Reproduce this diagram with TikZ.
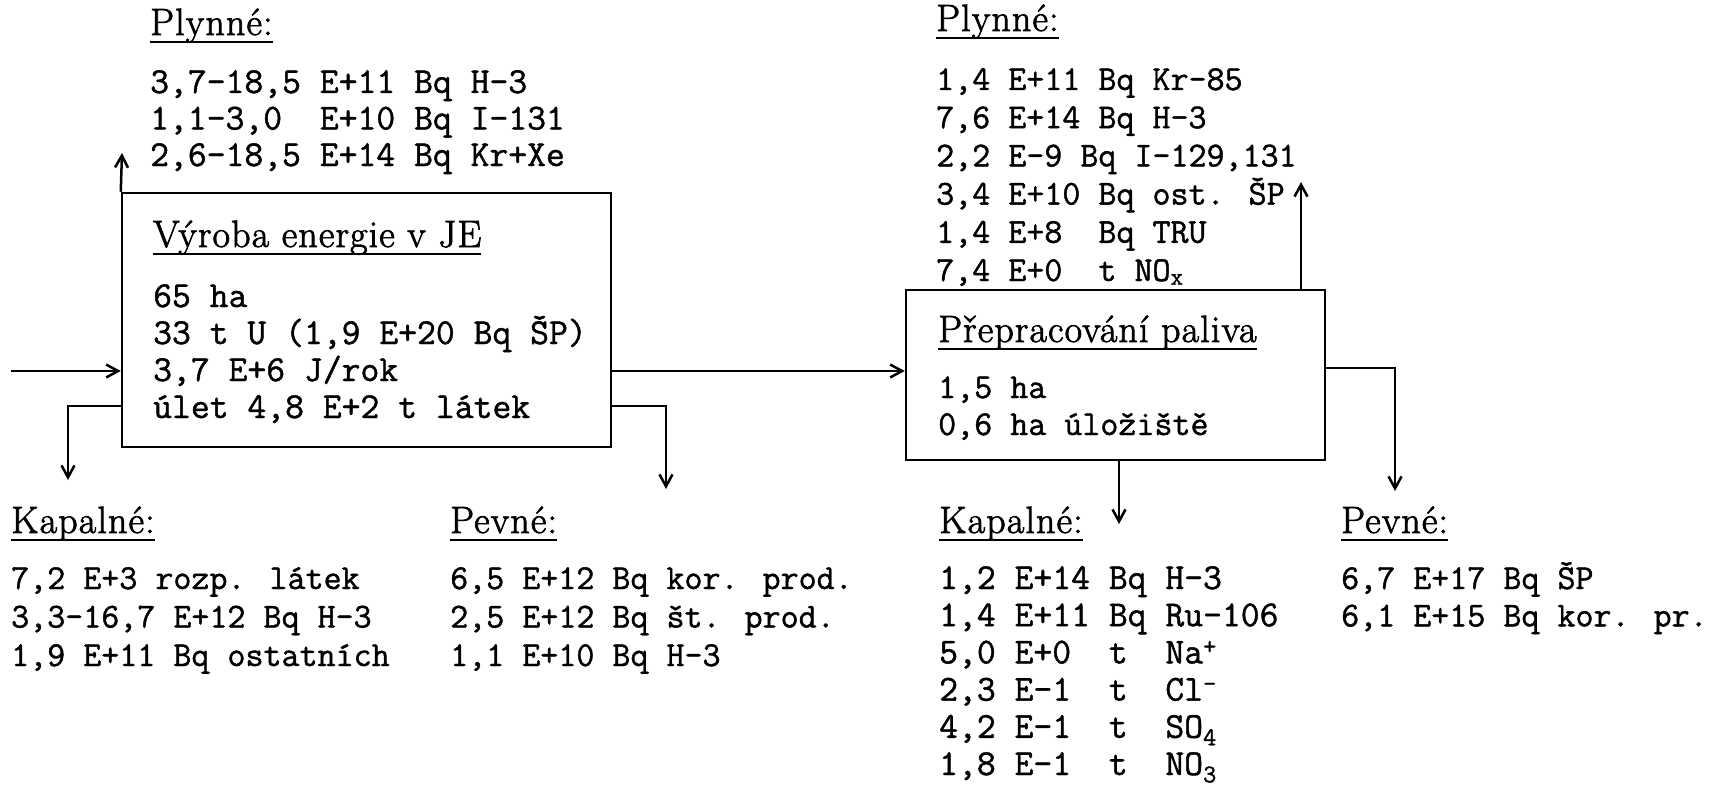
\documentclass[tikz,border=0pt]{standalone}
\usepackage{fontspec}
\newfontfamily\datafont{Latin Modern Mono}[FakeBold=1.2]
\newfontfamily\headfont{Latin Modern Roman}[FakeBold=2,LetterSpace=3]
\usetikzlibrary{arrows.meta}
\begin{document}
\begin{tikzpicture}[x=1pt,y=-1pt,
  data/.style={anchor=base west,inner sep=0pt,font=\fontsize{35}{38}\selectfont\datafont},
  big/.style={font=\fontsize{36.6}{38}\selectfont\datafont},
  head/.style={anchor=base west,inner sep=0pt,text depth=7pt,font=\fontsize{38}{40}\selectfont\headfont},
  uline/.style={line width=2.5pt},
  boxst/.style={draw,line width=2.5pt,inner sep=0pt},
  arr/.style={line width=2.5pt,-{Straight Barb[length=12pt,width=13pt]}}]
\useasboundingbox (0,0) rectangle (1712,789);

% boxes
\node[boxst,minimum width=489pt,minimum height=254pt] (b1) at (366.5,320) {};
\node[boxst,minimum width=419pt,minimum height=170pt] (b2) at (1115.5,375) {};

% box 1 text
\node[head] (t1) at (153,247) {Výroba energie v JE};
\draw[uline] (t1.south west) -- (t1.south east);
\foreach \t [count=\i] in {{65 ha},{33 t U (1,9 E+20 Bq ŠP)},{3,7 E+6 J/rok},{úlet 4,8 E+2 t látek}}
  \node[data,big] (bt\i) at (153,{307+(\i-1)*37}) {\t};

% box 2 text
\node[head] (t2) at (938,342) {Přepracování paliva};
\draw[uline] (t2.south west) -- (t2.south east);
\foreach \t [count=\i] in {{1,5 ha},{0,6 ha úložiště}}
  \node[data] (ct\i) at (938,{398+(\i-1)*37}) {\t};

% top left gases
\node[head] (hg1) at (150,35) {Plynné:};
\draw[uline] (hg1.south west) -- (hg1.south east);
\foreach \t [count=\i] in {{3,7-18,5 E+11 Bq H-3},{1,1-3,0~~E+10 Bq I-131},{2,6-18,5 E+14 Bq Kr+Xe}}
  \node[data,big] (ga\i) at (150,{93+(\i-1)*36.5}) {\t};

% top right gases
\node[head] (hg2) at (936,31) {Plynné:};
\draw[uline] (hg2.south west) -- (hg2.south east);
\foreach \t [count=\i] in {{1,4 E+11 Bq Kr-85},{7,6 E+14 Bq H-3},{2,2 E-9 Bq I-129,131},{3,4 E+10 Bq ost. ŠP},{1,4 E+8~~Bq TRU},{7,4 E+0~~t NO\textsubscript{x}}}
  \node[data] (gb\i) at (936,{90+(\i-1)*38.2}) {\t};

% bottom left liquids
\node[head] (hk1) at (11,533) {Kapalné:};
\draw[uline] (hk1.south west) -- (hk1.south east);
\foreach \t [count=\i] in {{7,2 E+3 rozp. látek},{3,3-16,7 E+12 Bq H-3},{1,9 E+11 Bq ostatních}}
  \node[data] (ka\i) at (11,{589+(\i-1)*38.5}) {\t};

% bottom left solids
\node[head] (hp1) at (450,533) {Pevné:};
\draw[uline] (hp1.south west) -- (hp1.south east);
\foreach \t [count=\i] in {{6,5 E+12 Bq kor. prod.},{2,5 E+12 Bq št. prod.},{1,1 E+10 Bq H-3}}
  \node[data] (pa\i) at (450,{589+(\i-1)*38.5}) {\t};

% bottom right liquids
\node[head] (hk2) at (939,533) {Kapalné:};
\draw[uline] (hk2.south west) -- (hk2.south east);
\foreach \t [count=\i] in {{1,2 E+14 Bq H-3},{1,4 E+11 Bq Ru-106},{5,0 E+0~~t~~Na\textsuperscript{+}},{2,3 E-1~~t~~Cl\textsuperscript{-}},{4,2 E-1~~t~~SO\textsubscript{4}},{1,8 E-1~~t~~NO\textsubscript{3}}}
  \node[data,big] (kb\i) at (939,{589+(\i-1)*37.2}) {\t};

% bottom right solids
\node[head] (hp2) at (1341,533) {Pevné:};
\draw[uline] (hp2.south west) -- (hp2.south east);
\foreach \t [count=\i] in {{6,7 E+17 Bq ŠP},{6,1 E+15 Bq kor. pr.}}
  \node[data] (pb\i) at (1341,{589+(\i-1)*37.4}) {\t};

% connector coordinates
\coordinate (inL) at (11,371);
\coordinate (g1) at (122,153);
\coordinate (k1c) at (68,406);
\coordinate (k1) at (68,480);
\coordinate (p1c) at (666,406);
\coordinate (p1) at (666,489);
\coordinate (g2) at (1301,182);
\coordinate (p2c) at (1395,368);
\coordinate (p2) at (1395,491);
\coordinate (k2) at (1119,524);

% connectors
\draw[arr] (inL) -- (inL -| b1.west);
\draw[arr] (b1.north west) -- (g1);
\draw[arr] (b1.west |- k1c) -- (k1c) -- (k1);
\draw[arr] (b1.east |- p1c) -- (p1c) -- (p1);
\draw[arr] (b1.east |- inL) -- (b2.west |- inL);
\draw[arr] (g2 |- b2.north) -- (g2);
\draw[arr] (b2.east |- p2c) -- (p2c) -- (p2);
\draw[arr] (k2 |- b2.south) -- (k2);
\end{tikzpicture}
\end{document}
